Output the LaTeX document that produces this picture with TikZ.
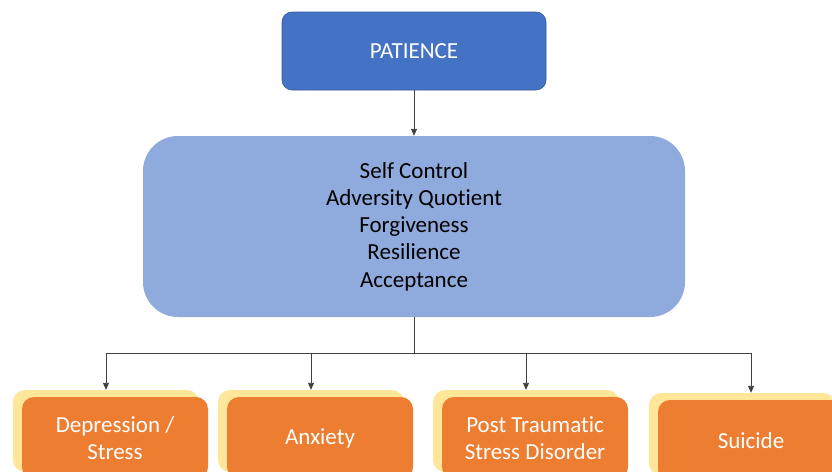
\documentclass[tikz,border=0pt]{standalone}
\usepackage{fontspec}
\setmainfont{Carlito}[RawFeature=-liga]
\usetikzlibrary{arrows.meta}
\definecolor{topblue}{HTML}{4472C4}
\definecolor{midblue}{HTML}{8FAADC}
\definecolor{boxorange}{HTML}{ED7D31}
\definecolor{boxyellow}{HTML}{FFE699}
\definecolor{linegray}{HTML}{404040}
\tikzset{
  topbox/.style={fill=topblue, draw=topblue!80!black, line width=0.6pt, rounded corners=10pt,
    minimum width=264pt, minimum height=78pt, text=white, align=center, inner sep=0pt},
  midbox/.style={fill=midblue, rounded corners=35pt,
    minimum width=542pt, minimum height=181pt, text=black, align=center, inner sep=0pt},
  leafbox/.style={fill=boxorange, rounded corners=12pt,
    minimum width=186pt, minimum height=82pt, text=white, align=center, inner sep=0pt},
  shadowbox/.style={fill=boxyellow, rounded corners=12pt,
    minimum width=186pt, minimum height=82pt, inner sep=0pt},
  conn/.style={draw=linegray, line width=0.9pt},
  arr/.style={conn, -{Triangle[width=6pt,length=7pt]}}
}
\begin{document}
\begin{tikzpicture}[x=1pt,y=-1pt, font=\fontsize{23}{27.3}\selectfont]
\clip (0,0) rectangle (832,471);
\fill[white] (0,0) rectangle (832,471);

\node[topbox] (top) at (414,51) {PATIENCE};
\node[midbox] (mid) at (414,226.5) {Self Control\\Adversity Quotient\\Forgiveness\\Resilience\\Acceptance};

\node[shadowbox] (s1) at (106,431) {};
\node[leafbox] (l1) at (115,438) {Depression /\\Stress};
\node[shadowbox] (s2) at (311,431) {};
\node[leafbox] (l2) at (320,438) {Anxiety};
\node[shadowbox] (s3) at (526,431) {};
\node[leafbox] (l3) at (535,438) {Post Traumatic\\Stress Disorder};
\node[shadowbox] (s4) at (742,434) {};
\node[leafbox] (l4) at (751,441) {Suicide};

\draw[arr] (top.south) -- (mid.north);

\coordinate (j) at (414,353);
\draw[conn] (mid.south) -- (j);
\draw[arr] (j) -| (s1.north);
\draw[arr] (j) -| (s2.north);
\draw[arr] (j) -| (s3.north);
\draw[arr] (j) -| (l4.north |- s4.north);
\end{tikzpicture}
\end{document}
